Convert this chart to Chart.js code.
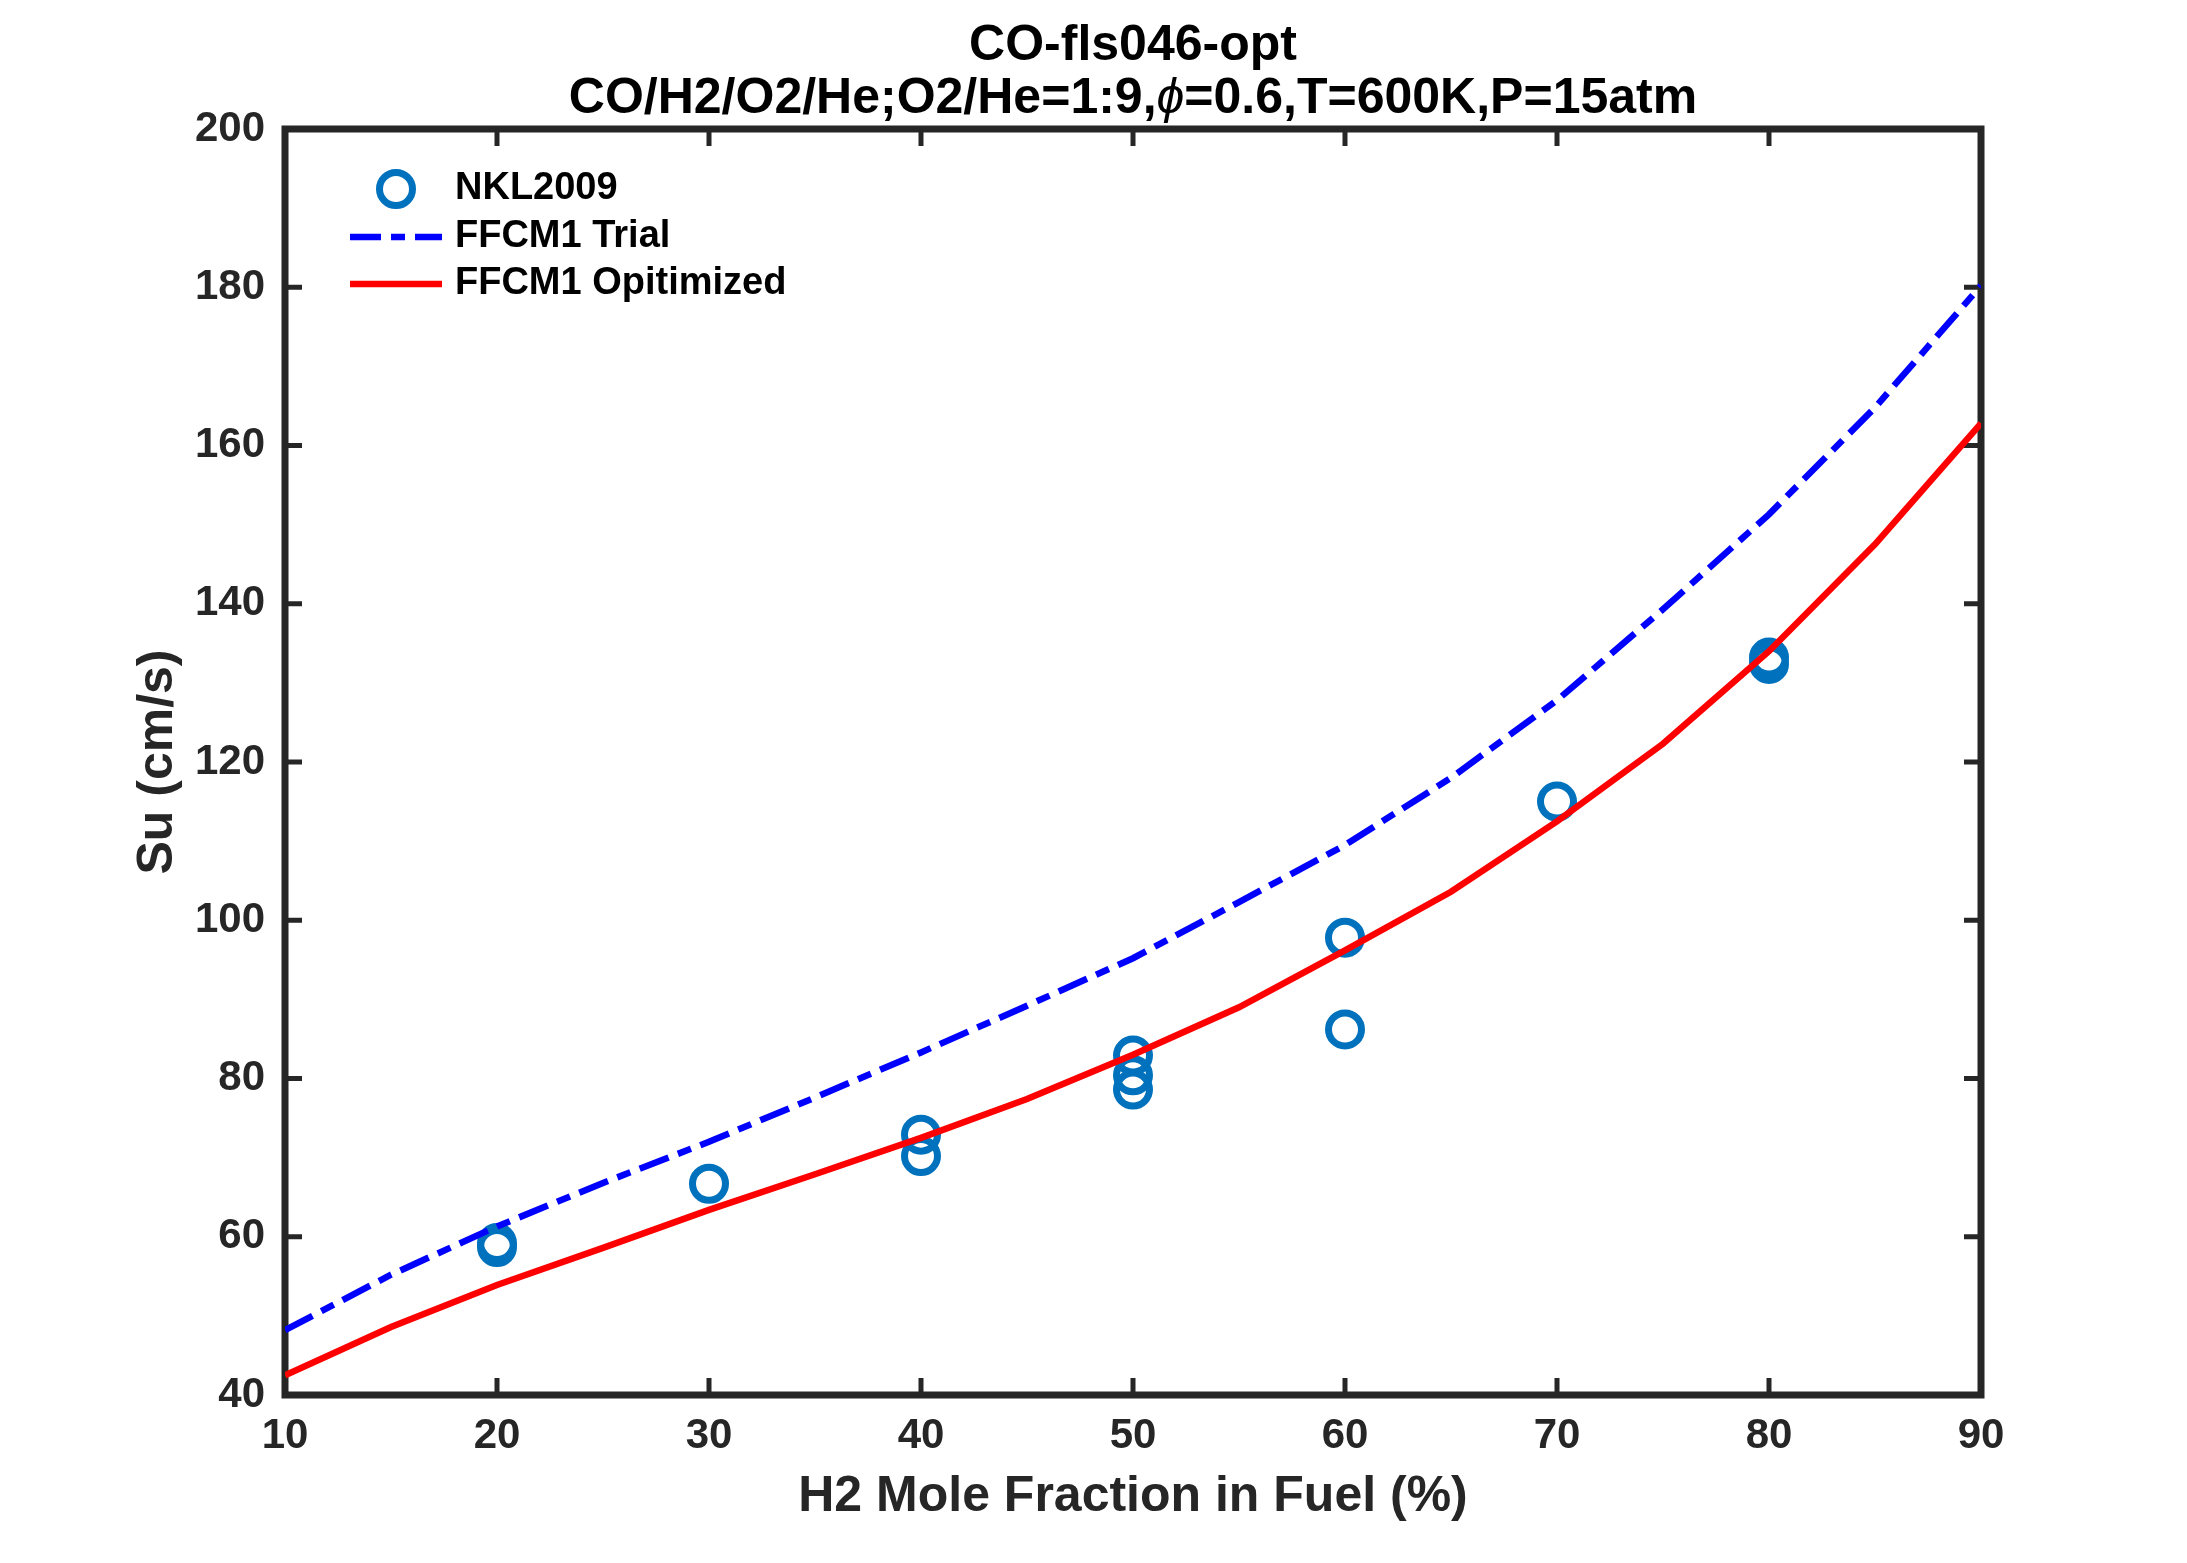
<!DOCTYPE html>
<html>
<head>
<meta charset="utf-8">
<script src="https://cdn.jsdelivr.net/npm/chart.js@4.4.1/dist/chart.umd.min.js"></script>
<style>
html, body { margin: 0; padding: 0; background: #fff; }
#wrap { width: 2187px; height: 1563px; }
</style>
</head>
<body>
<div id="wrap"><canvas id="graf"></canvas></div>
<script>
// valores
const h2Frac = [10, 15, 20, 25, 30, 35, 40, 45, 50, 55, 60, 65, 70, 75, 80, 85, 90]
const suTrial = [48.2, 55.2, 61.3, 66.8, 72.0, 77.6, 83.3, 89.2, 95.2, 102.3, 109.5, 118.0, 127.8, 139.3, 151.3, 164.8, 180.2]
const suOpt = [42.5, 48.6, 53.9, 58.6, 63.4, 67.9, 72.5, 77.4, 83.0, 89.0, 96.2, 103.6, 112.5, 122.3, 134.0, 147.5, 162.8]

const expX = [20, 20, 30, 40, 40, 50, 50, 50, 60, 60, 70, 80, 80]
const expSu = [59.2, 58.7, 66.7, 72.9, 70.2, 82.9, 80.4, 78.6, 97.8, 86.2, 115.0, 133.2, 132.4]

const xTicks = [10, 20, 30, 40, 50, 60, 70, 80, 90]
const yTicks = [40, 60, 80, 100, 120, 140, 160, 180, 200]

const nomes = ['NKL2009', 'FFCM1 Trial', 'FFCM1 Opitimized']
const titulo1 = 'CO-fls046-opt'
const titulo2 = ['CO/H2/O2/He;O2/He=1:9,', '\u03D5', '=0.6,T=600K,P=15atm']

const FONTE = "'Liberation Sans', Arial, sans-serif"
const COR_EIXO = '#262626'
const traco = [31, 10, 14, 10]

function pontos(xs, ys) {
    let out = []
    for (let i = 0; i < xs.length; i++) out.push({ x: xs[i], y: ys[i] })
    return out
}

// caixa e ticks para dentro nos quatro lados
const eixos = {
    id: 'eixos',
    beforeDatasetsDraw(chart) {
        const { ctx, chartArea: a, scales: { x, y } } = chart
        ctx.save()
        ctx.strokeStyle = COR_EIXO
        ctx.lineWidth = 5
        ctx.beginPath()
        xTicks.forEach(t => {
            let px = x.getPixelForValue(t)
            ctx.moveTo(px, a.bottom); ctx.lineTo(px, a.bottom - 17)
            ctx.moveTo(px, a.top); ctx.lineTo(px, a.top + 17)
        })
        yTicks.forEach(t => {
            let py = y.getPixelForValue(t)
            ctx.moveTo(a.left, py); ctx.lineTo(a.left + 17, py)
            ctx.moveTo(a.right, py); ctx.lineTo(a.right - 17, py)
        })
        ctx.stroke()
        ctx.lineWidth = 7
        ctx.strokeRect(a.left, a.top, a.right - a.left, a.bottom - a.top)
        ctx.restore()
    }
}

// titulo e legenda desenhados por cima
const textos = {
    id: 'textos',
    afterDraw(chart) {
        const { ctx, chartArea: a } = chart
        const cx = (a.left + a.right) / 2
        ctx.save()
        ctx.fillStyle = '#000'
        ctx.textBaseline = 'middle'
        ctx.textAlign = 'center'
        ctx.font = 'bold 50px ' + FONTE
        ctx.fillText(titulo1, cx, 46)

        const fontes = ['bold 50px ' + FONTE, 'italic 50px ' + FONTE, 'bold 50px ' + FONTE]
        let larg = []
        let total = 0
        for (let i = 0; i < titulo2.length; i++) {
            ctx.font = fontes[i]
            larg.push(ctx.measureText(titulo2[i]).width)
            total += larg[i]
        }
        ctx.textAlign = 'left'
        let px = cx - total / 2
        for (let i = 0; i < titulo2.length; i++) {
            ctx.font = fontes[i]
            ctx.fillText(titulo2[i], px, 99)
            px += larg[i]
        }

        // legenda
        const ds = chart.data.datasets
        const x0 = a.left + 65
        const x1 = a.left + 157
        const tx = a.left + 170
        const linhas = [a.top + 60, a.top + 108, a.top + 155]
        ctx.font = 'bold 38px ' + FONTE
        for (let i = 0; i < nomes.length; i++) {
            let yy = linhas[i]
            if (i === 0) {
                ctx.beginPath()
                ctx.strokeStyle = ds[0].borderColor
                ctx.lineWidth = ds[0].pointBorderWidth
                ctx.arc((x0 + x1) / 2, yy, ds[0].pointRadius, 0, Math.PI * 2)
                ctx.stroke()
            } else {
                ctx.beginPath()
                ctx.strokeStyle = ds[i].borderColor
                ctx.lineWidth = ds[i].borderWidth
                ctx.setLineDash(ds[i].borderDash || [])
                ctx.moveTo(x0, yy)
                ctx.lineTo(x1, yy)
                ctx.stroke()
                ctx.setLineDash([])
            }
            ctx.fillStyle = '#000'
            ctx.fillText(nomes[i], tx, yy)
        }
        ctx.restore()
    }
}

const data = {
    datasets: [
        {
            label: nomes[0],
            data: pontos(expX, expSu),
            showLine: false,
            borderColor: '#0072BD',
            backgroundColor: 'rgba(0,0,0,0)',
            pointBackgroundColor: 'rgba(0,0,0,0)',
            pointBorderColor: '#0072BD',
            pointRadius: 16.5,
            pointBorderWidth: 7,
            order: 2
        },
        {
            label: nomes[1],
            data: pontos(h2Frac, suTrial),
            showLine: true,
            borderColor: '#0000FF',
            borderWidth: 6.5,
            borderDash: traco,
            pointRadius: 0,
            order: 1
        },
        {
            label: nomes[2],
            data: pontos(h2Frac, suOpt),
            showLine: true,
            borderColor: '#FF0000',
            borderWidth: 6.5,
            pointRadius: 0,
            order: 0
        }
    ]
}

const config = {
    type: 'scatter',
    data: data,
    options: {
        responsive: true,
        maintainAspectRatio: false,
        animation: false,
        devicePixelRatio: 1,
        events: [],
        layout: { padding: { left: 0, top: 129, right: 206, bottom: 0 } },
        plugins: {
            legend: { display: false },
            tooltip: { enabled: false },
            title: { display: false }
        },
        scales: {
            x: {
                type: 'linear',
                min: 10,
                max: 90,
                grid: { display: false },
                border: { display: false },
                afterBuildTicks: s => { s.ticks = xTicks.map(v => ({ value: v })) },
                afterFit: s => { s.height = 168 },
                ticks: {
                    color: COR_EIXO,
                    padding: 8,
                    maxRotation: 0,
                    font: { family: FONTE, size: 42, weight: 'bold' }
                },
                title: {
                    display: true,
                    text: 'H2 Mole Fraction in Fuel (%)',
                    color: COR_EIXO,
                    padding: { top: 0, bottom: 36 },
                    font: { family: FONTE, size: 50, weight: 'bold', lineHeight: 1.2 }
                }
            },
            y: {
                type: 'linear',
                min: 40,
                max: 200,
                grid: { display: false },
                border: { display: false },
                afterBuildTicks: s => { s.ticks = yTicks.map(v => ({ value: v })) },
                afterFit: s => { s.width = 285 },
                ticks: {
                    color: COR_EIXO,
                    padding: 12,
                    font: { family: FONTE, size: 42, weight: 'bold' }
                },
                title: {
                    display: true,
                    text: 'Su (cm/s)',
                    color: COR_EIXO,
                    padding: { top: 128, bottom: 0 },
                    font: { family: FONTE, size: 50, weight: 'bold', lineHeight: 1.2 }
                }
            }
        }
    },
    plugins: [eixos, textos]
}

let meuGrafico = new Chart(document.getElementById('graf').getContext('2d'), config)
</script>
</body>
</html>
